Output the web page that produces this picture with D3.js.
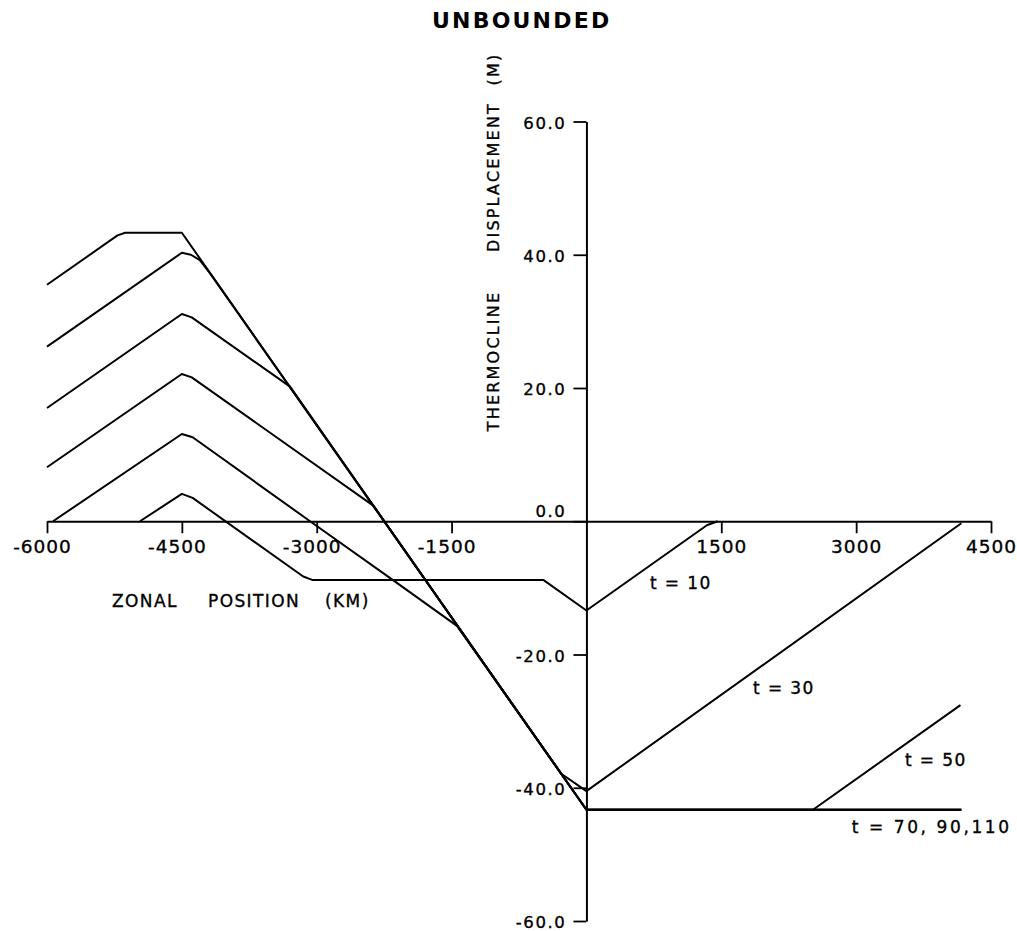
<!DOCTYPE html>
<html>
<head>
<meta charset="utf-8">
<script src="https://cdn.jsdelivr.net/npm/d3@7"></script>
<style>
  html, body { margin: 0; padding: 0; background: #fff; }
  svg { display: block; }
  text { font-family: "DejaVu Sans", "Liberation Sans", sans-serif; fill: #000; }
  text.lbl { stroke: #000; stroke-width: 0.35px; }
</style>
</head>
<body>
<svg id="chart" width="1017" height="931"></svg>
<script>
// Thermocline displacement (m) against zonal position (km), one profile per time t.
const t10  = [[-4966, 0], [-4500, 4.1], [-4380, 3.5], [-3150, -8.3], [-3050, -8.8], [-480, -8.8], [0, -13.4], [1340, -0.6], [1460, 0]];
const t30  = [[-5933, 0], [-4500, 13.1], [-4380, 12.6], [-3074, 0], [-2155, -8.8], [-1440, -15.7], [-280, -37.9], [0, -40.5], [4170, -0.3]];
const t50  = [[-6000, 8.1], [-4500, 22.1], [-4390, 21.6], [-2367, 2.3], [0, -43.3], [2520, -43.3], [4160, -27.6]];
const t70  = [[-6000, 17.0], [-4500, 31.1], [-4390, 30.6], [-3297, 20.2], [0, -43.3], [4170, -43.3]];
const t90  = [[-6000, 26.2], [-4500, 40.3], [-4400, 40.0], [-4300, 39.2], [-4180, 37.1], [0, -43.3], [4170, -43.3]];
const t110 = [[-6000, 35.5], [-5216, 42.9], [-5130, 43.3], [-4500, 43.3], [0, -43.3], [4170, -43.3]];

const xTicks = [-6000, -4500, -3000, -1500, 1500, 3000, 4500];
const yTicks = [60, 40, 20, 0, -20, -40, -60];

// Curve labels, anchored in data units (km, m)
const curveLabels = [
  { text: "t = 10", at: [707, -10.2], spacing: 1.4 },
  { text: "t = 30", at: [1853, -26.0], spacing: 1.4 },
  { text: "t = 50", at: [3543, -36.8], spacing: 1.4 },
  { text: "t = 70, 90,110", at: [2950, -46.8], spacing: 2.6 }
];

const svg = d3.select("#chart");

const x = d3.scaleLinear().domain([-6000, 4500]).range([47, 991]);
const y = d3.scaleLinear().domain([-60, 60]).range([921, 121.5]);

// Title
svg.append("text")
  .attr("x", 432).attr("y", 28)
  .style("font-size", "22px").style("font-weight", "bold")
  .style("letter-spacing", "2.2px")
  .text("UNBOUNDED");

// x axis along zero displacement
const gx = svg.append("g")
  .attr("transform", `translate(0,${y(0)})`)
  .call(d3.axisBottom(x).tickValues(xTicks).tickSize(12).tickSizeOuter(0).tickFormat(d => String(d)));
gx.select(".domain").attr("stroke", "#000").attr("stroke-width", 2);
gx.selectAll(".tick line").attr("stroke", "#000").attr("stroke-width", 1.8);
gx.selectAll(".tick text")
  .classed("lbl", true)
  .attr("y", 32).attr("dy", null)
  .attr("dx", d => d < 0 ? -5 : 0)
  .style("font-size", "18.5px").style("letter-spacing", "1px")
  .attr("fill", "#000");

// y axis through x = 0
const gy = svg.append("g")
  .attr("transform", `translate(${x(0)},0)`)
  .call(d3.axisLeft(y).tickValues(yTicks).tickSize(13).tickSizeOuter(0).tickFormat(d => d.toFixed(1)));
gy.select(".domain").attr("stroke", "#000").attr("stroke-width", 2);
gy.selectAll(".tick line").attr("stroke", "#000").attr("stroke-width", 1.8);
gy.selectAll(".tick text")
  .classed("lbl", true)
  .attr("x", -20).attr("dy", null)
  .attr("y", d => d === 0 ? -5 : 6.5)
  .style("font-size", "16.5px").style("letter-spacing", "1.6px")
  .attr("fill", "#000");

// Axis titles
const xTitle = [["ZONAL", 112], ["POSITION", 208], ["(KM)", 325]];
xTitle.forEach(([word, px]) => {
  svg.append("text")
    .attr("class", "lbl")
    .attr("x", px).attr("y", 606.5)
    .style("font-size", "17px").style("letter-spacing", "1.4px")
    .text(word);
});

const yTitle = [["THERMOCLINE", 361], ["DISPLACEMENT", 177], ["(M)", 69]];
yTitle.forEach(([word, py]) => {
  svg.append("text")
    .attr("class", "lbl")
    .attr("transform", `translate(499,${py}) rotate(-90)`)
    .attr("text-anchor", "middle")
    .style("font-size", "16px").style("letter-spacing", "2.2px")
    .text(word);
});

// Profiles
const line = d3.line().x(d => x(d[0])).y(d => y(d[1]));
[t10, t30, t50, t70, t90, t110].forEach(series => {
  svg.append("path")
    .datum(series)
    .attr("d", line)
    .attr("fill", "none")
    .attr("stroke", "#000")
    .attr("stroke-width", 2)
    .attr("stroke-linejoin", "round");
});

// Labels for each profile
curveLabels.forEach(l => {
  svg.append("text")
    .attr("class", "lbl")
    .attr("x", x(l.at[0])).attr("y", y(l.at[1]))
    .style("font-size", "17px").style("letter-spacing", l.spacing + "px")
    .text(l.text);
});
</script>
</body>
</html>
